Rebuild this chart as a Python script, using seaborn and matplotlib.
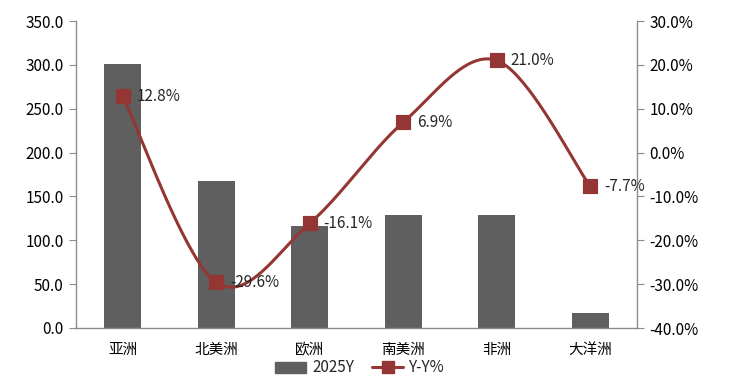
import numpy as np
import pandas as pd
import seaborn as sns
import matplotlib.pyplot as plt
from matplotlib.ticker import FuncFormatter
from matplotlib.patches import Patch
from matplotlib.lines import Line2D

# data
regions = ["亚洲", "北美洲", "欧洲", "南美洲", "非洲", "大洋洲"]
volume_2025 = [301.0, 167.5, 116.5, 128.5, 128.5, 17.0]
yoy_pct = [12.8, -29.6, -16.1, 6.9, 21.0, -7.7]

df = pd.DataFrame({"region": regions, "2025Y": volume_2025, "yoy": yoy_pct})

sns.set_style("white")
plt.rcParams["font.family"] = ["Noto Sans CJK SC", "DejaVu Sans"]

bar_color = "#5f5f5f"
line_color = "#943634"
spine_color = "#8c8c8c"

fig = plt.figure(figsize=(7.45, 3.92), dpi=100)
ax = fig.add_axes([76 / 745, 1 - 328 / 392, 561 / 745, 307 / 392])

sns.barplot(data=df, x="region", y="2025Y", color=bar_color, width=0.4,
            saturation=1, ax=ax, linewidth=0)
ax.set_xlim(-0.5, 5.5)
ax.set_ylim(0, 350)
ax.set_yticks(np.arange(0, 351, 50))
ax.yaxis.set_major_formatter(FuncFormatter(lambda v, p: f"{v:.1f}"))
ax.set_xlabel("")
ax.set_ylabel("")

# smoothed line like excel (bezier between the points)
ax2 = ax.twinx()
x = np.arange(len(yoy_pct), dtype=float)
y = np.array(yoy_pct, dtype=float)
px = np.concatenate([[x[0]], x, [x[-1]]])
py = np.concatenate([[y[0]], y, [y[-1]]])
sx, sy = [], []
t = np.linspace(0, 1, 40)
for i in range(1, len(px) - 2):
    p0 = np.array([px[i], py[i]])
    p3 = np.array([px[i + 1], py[i + 1]])
    c1 = p0 + (np.array([px[i + 1], py[i + 1]]) - np.array([px[i - 1], py[i - 1]])) / 6
    c2 = p3 - (np.array([px[i + 2], py[i + 2]]) - np.array([px[i], py[i]])) / 6
    b = ((1 - t) ** 3)[:, None] * p0 + (3 * (1 - t) ** 2 * t)[:, None] * c1 \
        + (3 * (1 - t) * t ** 2)[:, None] * c2 + (t ** 3)[:, None] * p3
    sx.extend(b[:, 0])
    sy.extend(b[:, 1])
ax2.plot(sx, sy, color=line_color, lw=2.2, zorder=3)
sns.scatterplot(x=x, y=y, marker="s", s=110, color=line_color, edgecolor=line_color,
                ax=ax2, zorder=4)
for xi, yi in zip(x, y):
    ax2.annotate(f"{yi:.1f}%", (xi, yi), xytext=(10, 0), textcoords="offset points",
                 va="center", ha="left", fontsize=11)
ax2.set_ylim(-40, 30)
ax2.set_yticks(np.arange(-40, 31, 10))
ax2.yaxis.set_major_formatter(FuncFormatter(lambda v, p: f"{v:.1f}%"))
ax2.set_xlim(-0.5, 5.5)

for a in (ax, ax2):
    for s in a.spines.values():
        s.set_visible(False)
    a.tick_params(labelsize=11, colors="black")
ax.spines["left"].set_visible(True)
ax.spines["bottom"].set_visible(True)
ax2.spines["right"].set_visible(True)
for s in (ax.spines["left"], ax.spines["bottom"], ax2.spines["right"]):
    s.set_color(spine_color)
    s.set_linewidth(1)
ax.tick_params(axis="y", direction="out", length=5, color=spine_color, left=True, pad=4)
ax.tick_params(axis="x", length=0, pad=11, labelsize=10.5)
ax2.tick_params(axis="y", direction="out", length=5, color=spine_color, right=True, pad=4)

# legend at bottom
handles = [Patch(color=bar_color, label="2025Y"),
           Line2D([0], [0], color=line_color, lw=2.2, marker="s", markersize=8, label="Y-Y%")]
fig.legend(handles=handles, loc="center", bbox_to_anchor=(360 / 745, 1 - 368 / 392),
           ncol=2, frameon=False, fontsize=11, handlelength=2.0, columnspacing=1.2,
           handletextpad=0.4, borderaxespad=0, borderpad=0)

fig.savefig("out.png", dpi=100)
